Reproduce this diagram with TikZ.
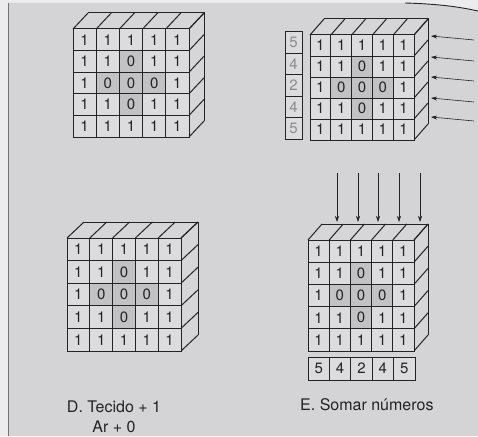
\documentclass[tikz,border=0pt]{standalone}
\usepackage{fontspec}
\setmainfont{TeX Gyre Heros}
\usetikzlibrary{arrows.meta}
\definecolor{paper}{RGB}{212,212,215}
\definecolor{margin}{RGB}{236,236,238}
\definecolor{cellw}{RGB}{220,220,223}
\definecolor{cellz}{RGB}{194,194,197}
\definecolor{face}{RGB}{214,214,217}
\definecolor{ink}{RGB}{35,35,38}
\tikzset{
  edge/.style={draw=ink, line width=1pt},
  cellbase/.style={draw=ink, line width=1pt, inner sep=0pt, font=\fontsize{15}{17}\selectfont, text=ink},
  cell1/.style={cellbase, fill=cellw},
  cell0/.style={cellbase, fill=cellz},
  sumcell/.style={cellbase, fill=cellw},
  sumgray/.style={cellbase, fill=cellw, text=black!45},
  faceside/.style={fill=face},
  arr/.style={draw=ink, line width=0.6pt, -{Stealth[length=6pt,width=4pt]}},
  lbl/.style={font=\fontsize{16}{19}\selectfont, text=ink, inner sep=0pt},
}
\newcommand\drawcube[7]{%
  \def\cxl{#2}\def\cyt{#3}\def\cw{#4}\def\ch{#5}\def\cdx{#6}\def\cdy{#7}%
  \fill[faceside] (\cxl+5*\cw,\cyt) -- (\cxl+5*\cw+\cdx,\cyt+\cdy) -- (\cxl+5*\cw+\cdx,\cyt+5*\ch+\cdy) -- (\cxl+5*\cw,\cyt+5*\ch) -- cycle;
  \fill[faceside] (\cxl,\cyt) -- (\cxl+\cdx,\cyt+\cdy) -- (\cxl+5*\cw+\cdx,\cyt+\cdy) -- (\cxl+5*\cw,\cyt) -- cycle;
  \foreach \i in {0,...,5} {
    \draw[edge] (\cxl+\i*\cw,\cyt) -- (\cxl+\i*\cw+\cdx,\cyt+\cdy);
    \draw[edge] (\cxl+5*\cw,\cyt+\i*\ch) -- (\cxl+5*\cw+\cdx,\cyt+\i*\ch+\cdy);
  }
  \draw[edge] (\cxl+\cdx,\cyt+\cdy) -- (\cxl+5*\cw+\cdx,\cyt+\cdy) -- (\cxl+5*\cw+\cdx,\cyt+5*\ch+\cdy);
  \foreach \row [count=\r] in {{1,1,1,1,1},{1,1,0,1,1},{1,0,0,0,1},{1,1,0,1,1},{1,1,1,1,1}} {
    \foreach \v [count=\c] in \row {
      \node[cell\v, minimum width=\cw pt, minimum height=\ch pt] (#1-\r-\c) at (\cxl+\c*\cw-0.5*\cw, \cyt+\r*\ch-0.5*\ch) {\v};
    }
  }
}
\begin{document}
\begin{tikzpicture}[x=1pt,y=-1pt]
\useasboundingbox (0,0) rectangle (478,436);
\fill[margin] (0,0) rectangle (478,436);
\fill[paper] (8,3) -- (405,3) .. controls (440,4) and (460,7) .. (478,11) -- (478,436) -- (8,436) -- cycle;
\draw[black!55, line width=0.8pt] (8,3) -- (8,436);
\draw[ink, line width=0.9pt] (405,3) .. controls (440,4) and (460,7) .. (478,11);

% cubes
\drawcube{A}{73}{29}{23.2}{21.6}{15}{-16}
\drawcube{B}{310}{35}{20.8}{21}{14}{-16}
\drawcube{D}{67}{238}{22.8}{22.6}{17}{-16}
\drawcube{E}{308}{240}{21.2}{22.2}{14}{-16}

% row sums beside B
\foreach \v [count=\r] in {5,4,2,4,5} {
  \node[sumgray, minimum width=17pt, minimum height=21.4pt] (s-\r) at (293.5, 32+\r*21.4-10.7) {\v};
}
% column sums below E
\foreach \v [count=\c] in {5,4,2,4,5} {
  \node[sumcell, minimum width=21.4pt, minimum height=23pt] (t-\c) at (308+\c*21.4-10.7, 368.5) {\v};
}

% horizontal arrows into B
\foreach \y [count=\i] in {36,57,77,98,117} {
  \coordinate (bs\i) at (474,\y+4);
  \coordinate (bt\i) at (431,\y);
  \draw[arr] (bs\i) -- (bt\i);
}
% vertical arrows into E
\foreach \x [count=\i] in {337,358,378,399,420} {
  \coordinate (es\i) at (\x,173);
  \coordinate (et\i) at (\x,222);
  \draw[arr] (es\i) -- (et\i);
}

% labels
\node[lbl, align=center] (labD) at (114,417) {D. Tecido + 1\\[1pt]Ar + 0};
\node[lbl, anchor=west] (labE) at (300,405) {E. Somar números};
\end{tikzpicture}
\end{document}
